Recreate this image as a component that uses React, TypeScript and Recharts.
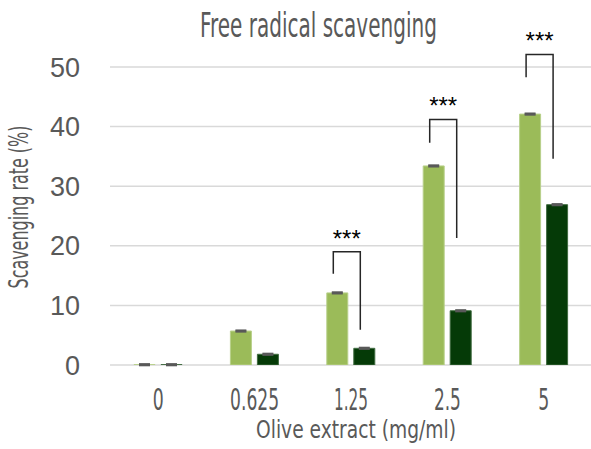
import { useLayoutEffect, useRef, useState } from "react";
import { Bar, BarChart, CartesianGrid, ErrorBar, Label, LabelList, XAxis, YAxis } from "recharts";

const categories = ["0", "0.625", "1.25", "2.5", "5"];
const seriesLight = [0.05, 5.7, 12.1, 33.4, 42.1];
const seriesDark = [0.05, 1.8, 2.8, 9.1, 26.9];
const errLight = [0.1, 0.1, 0.1, 0.1, 0.1];
const errDark = [0.1, 0.1, 0.1, 0.1, 0.1];

// significance brackets (values in % units), null = no bracket
const bracketTop = [null, null, 19.0, 41.2, 52.1];
const bracketLeftEnd = [null, null, 15.3, 37.3, 48.3];
const bracketRightEnd = [null, null, 5.9, 21.3, 34.6];
const sigText = ["", "", "***", "***", "***"];

const yTicks = [0, 10, 20, 30, 40, 50];

const data = categories.map((c, i) => ({
    dose: c,
    light: seriesLight[i],
    dark: seriesDark[i],
    errLight: errLight[i],
    errDark: errDark[i],
}));

const BAR_SIZE = 21;
const BAR_GAP = 6;
const NARROW = "'DejaVu Sans Condensed', 'DejaVu Sans', sans-serif";
const GRAY = "#595959";

// squeeze text horizontally to a target width (the source font is very narrow)
const FitText = ({ x, y, width, rotate = 0, children, ...rest }: any) => {
    const ref = useRef<SVGTextElement>(null);
    const [sx, setSx] = useState(1);
    useLayoutEffect(() => {
        const el = ref.current;
        if (!el) return;
        const w = el.getComputedTextLength();
        if (w > 0) setSx(width / w);
    }, [width, children]);
    return (
        <text ref={ref} x={0} y={0} transform={`translate(${x},${y}) rotate(${rotate}) scale(${sx},1)`} {...rest}>
            {children}
        </text>
    );
};

// rough width of a label in the narrow source font
const narrowWidth = (s: string) =>
    s.split("").reduce((w, ch) => w + (ch === "." ? 5 : ch === "1" ? 7 : 11), 0);

const XTick = (props: any) => {
    const { x, y, payload } = props;
    const s = String(payload.value);
    return (
        <FitText x={x} y={y} width={narrowWidth(s)} textAnchor="middle" fill={GRAY} fontSize={31} fontFamily={NARROW}>
            {s}
        </FitText>
    );
};

const renderBracket = (props: any) => {
    const { index } = props;
    const top = bracketTop[index];
    if (top == null) return null;
    const x = Number(props.x);
    const y = Number(props.y);
    const width = Number(props.width);
    const height = Number(props.height);
    const value = Number(props.value);
    const base = y + height;
    const k = height / value;
    const py = (v: number) => base - v * k;
    const lx = x + width / 2 - 4;
    const rx = x + width + BAR_GAP + width / 2 - 4;
    return (
        <g>
            <path
                d={`M${lx},${py(bracketLeftEnd[index] as number)}V${py(top)}H${rx}V${py(bracketRightEnd[index] as number)}`}
                fill="none"
                stroke="#262626"
                strokeWidth={1.5}
            />
            <text x={(lx + rx) / 2} y={py(top) - 5} textAnchor="middle" fontSize={24} fill="#000" fontFamily="'Liberation Sans', sans-serif">
                {sigText[index]}
            </text>
        </g>
    );
};

const App = () => {
    return (
        <div style={{ position: "absolute", left: 0, top: 0, width: 591, height: 449, background: "#fff", overflow: "hidden" }}>
            <BarChart
                width={592}
                height={449}
                data={data}
                margin={{ top: 67, right: 0, bottom: 44, left: 0 }}
                barSize={BAR_SIZE}
                barGap={BAR_GAP}
            >
                <CartesianGrid vertical={false} stroke="#D9D9D9" strokeWidth={1.5} />
                <XAxis
                    dataKey="dose"
                    axisLine={false}
                    tickLine={false}
                    tickSize={0}
                    tickMargin={45}
                    height={40}
                    interval={0}
                    tick={<XTick />}
                >
                    <Label
                        content={() => (
                            <FitText x={356} y={438} width={200} textAnchor="middle" fill={GRAY} fontSize={25} fontFamily={NARROW}>
                                Olive extract (mg/ml)
                            </FitText>
                        )}
                    />
                </XAxis>
                <YAxis
                    width={110}
                    domain={[0, 50]}
                    ticks={yTicks}
                    axisLine={false}
                    tickLine={false}
                    tickSize={0}
                    tickMargin={30}
                    tick={{ fill: GRAY, fontSize: 27, fontFamily: "'Liberation Sans', 'Open Sans', sans-serif" }}
                    allowDataOverflow
                >
                    <Label
                        content={() => (
                            <FitText x={28} y={207} rotate={-90} width={163} textAnchor="middle" fill={GRAY} fontSize={26} fontFamily={NARROW}>
                                Scavenging rate (%)
                            </FitText>
                        )}
                    />
                    <Label
                        content={() => (
                            <FitText x={318.5} y={37} width={237} textAnchor="middle" fill={GRAY} fontSize={33} fontFamily={NARROW}>
                                Free radical scavenging
                            </FitText>
                        )}
                    />
                </YAxis>
                <Bar dataKey="light" fill="#9BBB59" stroke="#B8D08A" strokeWidth={1} isAnimationActive={false}>
                    <ErrorBar dataKey="errLight" width={5.5} stroke={GRAY} strokeWidth={2} />
                    <LabelList dataKey="light" content={renderBracket} />
                </Bar>
                <Bar dataKey="dark" fill="#053A07" stroke="#3F6B3F" strokeWidth={1} isAnimationActive={false}>
                    <ErrorBar dataKey="errDark" width={5.5} stroke={GRAY} strokeWidth={2} />
                </Bar>
            </BarChart>
        </div>
    );
};

export default App;
